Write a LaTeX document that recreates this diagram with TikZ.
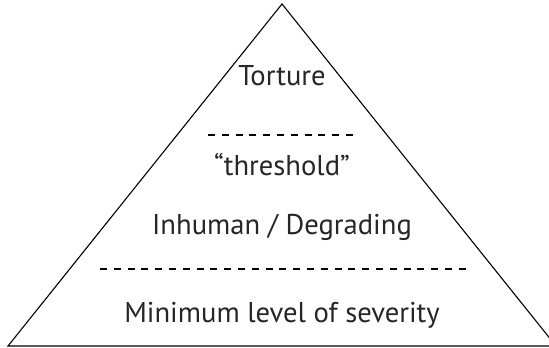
\documentclass[tikz,border=0pt]{standalone}
\usepackage{fontspec}
\setmainfont{PT Sans}
\tikzset{
  lbl/.style={anchor=base, inner sep=0pt, font=\fontsize{28.6}{32}\selectfont, text=black!85},
  sep/.style={line width=1.1pt, dash pattern=on 7pt off 6.8pt},
  edge/.style={line width=1.1pt, line join=miter}
}
\begin{document}
\begin{tikzpicture}[x=1pt,y=-1pt]
\useasboundingbox (0,0) rectangle (549,348);
\clip (0,0) rectangle (549,348);
\coordinate (apex) at (282,4);
\coordinate (bl) at (8,346);
\coordinate (br) at (556,346);
\draw[edge] (apex) -- (bl) -- (br) -- cycle;
\node[lbl] (torture) at (282,85) {Torture};
\node[lbl] (threshold) at (282,175) {“threshold”};
\node[lbl] (inhuman) at (282,234) {Inhuman / Degrading};
\node[lbl] (minimum) at (282,322) {Minimum level of severity};
\coordinate (d1a) at (208,135);
\coordinate (d1b) at (353,135);
\coordinate (d2a) at (100,269);
\coordinate (d2b) at (466,269);
\draw[sep] (d1a) -- (d1b);
\draw[sep] (d2a) -- (d2b);
\end{tikzpicture}
\end{document}
